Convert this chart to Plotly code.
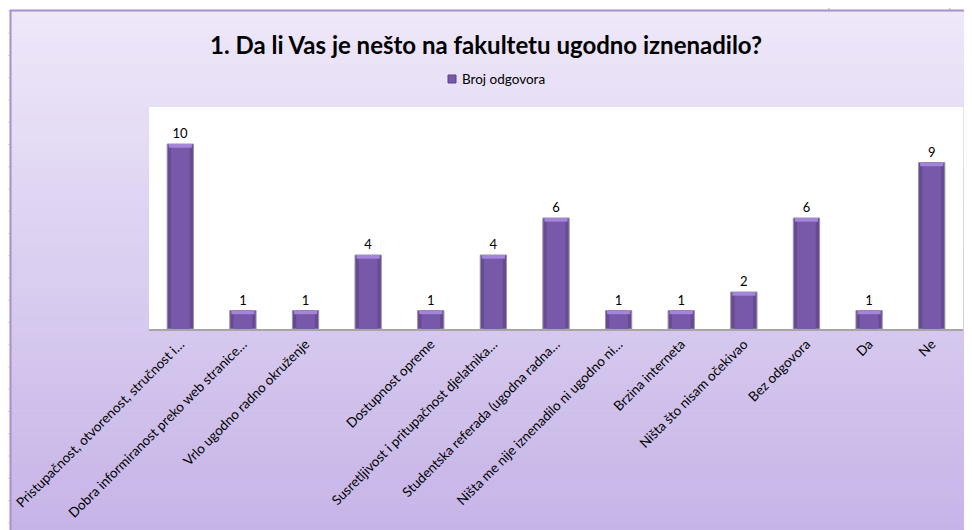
import plotly.graph_objects as go

# ---- data ----
categories = [
    "Pristupačnost, otvorenost, stručnost i…",
    "Dobra informiranost preko web stranice…",
    "Vrlo ugodno radno okruženje",
    " ",
    "Dostupnost opreme",
    "Susretljivost i pritupačnost djelatnika…",
    "Studentska referada (ugodna radna…",
    "Ništa me nije iznenadilo ni ugodno ni…",
    "Brzina interneta",
    "Ništa što nisam očekivao",
    "Bez odgovora",
    "Da",
    "Ne",
]
values = [10, 1, 1, 4, 1, 4, 6, 1, 1, 2, 6, 1, 9]
series_name = "Broj odgovora"
title_text = "1. Da li Vas je nešto na fakultetu ugodno iznenadilo?"

# ---- geometry (screen pixels; page body has an 8px margin) ----
SW, SH = 972, 530
O = 8
W, H = SW - O, SH - O
PL, PR, PT, PB = 149, 963, 107, 329  # plot area in screen pixels


def px(x):
    return (x - PL) / (PR - PL)


def py(y):
    return (PB - y) / (PB - PT)


FONT = "Lato, 'DejaVu Sans', sans-serif"
BAR_EDGE = "#664A93"
BAR_MID = "#7858A8"
BAR_CAP = "#A386DA"

shapes = []
# spreadsheet grid outside the chart
k = 0
while True:
    gy = 11 + 22.25 * k
    if gy > SH:
        break
    shapes.append(dict(type="line", xref="paper", yref="paper", x0=px(O), x1=px(10),
                       y0=py(gy), y1=py(gy), line=dict(color="#D6D6D6", width=1), layer="below"))
    k += 1
for gx in (829, 950):
    shapes.append(dict(type="line", xref="paper", yref="paper", x0=px(gx), x1=px(gx),
                       y0=py(O), y1=py(10), line=dict(color="#D6D6D6", width=2), layer="below"))

# chart area gradient
top_c = (238, 232, 249)
bot_c = (198, 180, 231)
N = 60
y_start, y_end = 10, SH + 2
for i in range(N):
    t = i / (N - 1)
    c = tuple(round(top_c[j] + (bot_c[j] - top_c[j]) * t) for j in range(3))
    ya = y_start + (y_end - y_start) * i / N
    yb = y_start + (y_end - y_start) * (i + 1) / N + 0.6
    shapes.append(dict(type="rect", xref="paper", yref="paper", x0=px(10), x1=px(SW + 5),
                       y0=py(ya), y1=py(yb), fillcolor="rgb(%d,%d,%d)" % c,
                       line=dict(width=0), layer="below"))
# chart border
shapes.append(dict(type="rect", xref="paper", yref="paper", x0=px(10.5), x1=px(SW + 5),
                   y0=py(10.5), y1=py(SH + 5), fillcolor="rgba(0,0,0,0)",
                   line=dict(color="#A68FCC", width=2), layer="below"))
# white plot area
shapes.append(dict(type="rect", xref="paper", yref="paper", x0=0, x1=1, y0=0, y1=1,
                   fillcolor="white", line=dict(width=0), layer="below"))
# legend key
shapes.append(dict(type="rect", xref="paper", yref="paper", x0=px(448), x1=px(456),
                   y0=py(75), y1=py(83), fillcolor=BAR_MID,
                   line=dict(color="#5D4287", width=1), layer="above"))

annotations = [
    dict(text=series_name, xref="paper", yref="paper", x=px(460), y=py(79),
         xanchor="left", yanchor="middle", showarrow=False,
         font=dict(family=FONT, size=13.5, color="#000000")),
]

fig = go.Figure()
fig.add_trace(go.Bar(
    x=categories, y=values, name=series_name,
    marker=dict(color=BAR_EDGE, line=dict(color="#9A93A8", width=1)),
    width=0.42,
    text=[str(v) for v in values], textposition="outside",
    textfont=dict(family=FONT, size=13, color="#000000"),
    cliponaxis=False, showlegend=False,
))
# lighter centre band (cylindrical shading)
fig.add_trace(go.Bar(
    x=categories, y=values,
    marker=dict(color=BAR_MID, line=dict(width=0)),
    width=0.30, showlegend=False, hoverinfo="skip",
))
# bevel highlight at the top of each bar
cap = 0.2
fig.add_trace(go.Bar(
    x=categories, y=[cap] * len(values), base=[v - cap for v in values],
    marker=dict(color=BAR_CAP, line=dict(width=0)),
    width=0.37, showlegend=False, hoverinfo="skip",
))

fig.update_layout(
    width=W, height=H,
    margin=dict(l=PL - O, r=SW - PR, t=PT - O, b=SH - PB, pad=0),
    paper_bgcolor="white", plot_bgcolor="rgba(0,0,0,0)",
    barmode="overlay",
    shapes=shapes,
    annotations=annotations,
    font=dict(family=FONT, color="#000000"),
    title=dict(text="<b>" + title_text + "</b>", font=dict(family=FONT, size=24, color="#000000"),
               x=(486 - O) / W, xanchor="center", xref="container",
               y=1 - (46 - O) / H, yanchor="middle", yref="container"),
    xaxis=dict(tickangle=-45, tickfont=dict(family=FONT, size=13.5, color="#000000"),
               showline=True, linecolor="#A6A6A6", linewidth=2, ticks="", showgrid=False,
               fixedrange=True, automargin=False),
    yaxis=dict(range=[0, 12], visible=False, showgrid=False, fixedrange=True),
    showlegend=False,
)

fig.write_html("out.html")
